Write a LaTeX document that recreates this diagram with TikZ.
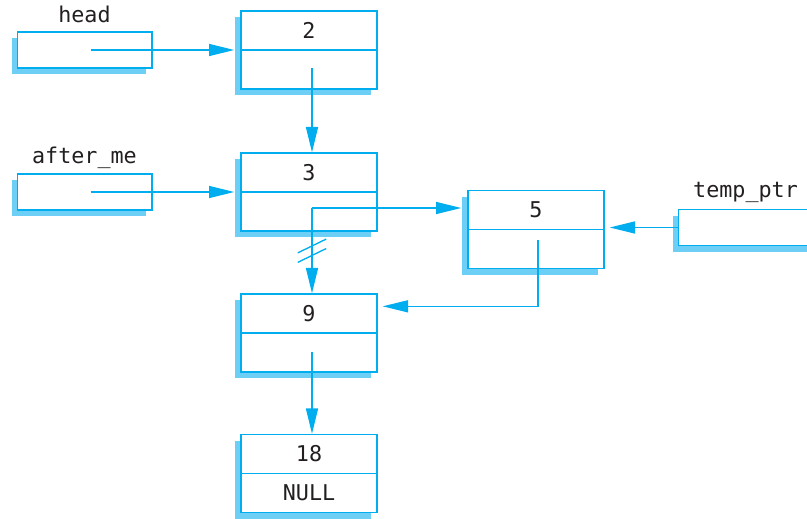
\documentclass[tikz,border=0pt]{standalone}
\usepackage{fontspec}
\setmonofont{DejaVu Sans Mono}
\usetikzlibrary{arrows.meta,shadows,calc}
\definecolor{linkblue}{RGB}{0,174,239}
\definecolor{shadowblue}{RGB}{109,207,246}
\definecolor{inkgray}{RGB}{35,31,32}
\tikzset{
  boxshadow/.style={drop shadow={shadow xshift=-4.2pt, shadow yshift=-4.8pt, fill=shadowblue, opacity=1}},
  cell/.style={draw=linkblue, fill=white, line width=1pt, minimum width=102pt, minimum height=58.5pt, boxshadow},
  ptr/.style={draw=linkblue, fill=white, line width=1pt, minimum width=101pt, minimum height=27pt, boxshadow},
  link/.style={draw=linkblue, line width=1pt},
  val/.style={text=inkgray, font=\ttfamily\fontsize{16.3}{19}\selectfont},
  ptrlabel/.style={val, anchor=base},
  >={Triangle[length=19pt, width=9pt]}
}
\begin{document}
\begin{tikzpicture}[x=0.75pt, y=0.75pt]
\useasboundingbox (0,0) rectangle (807,518);
\clip (0,0) rectangle (807,518);

% list cells
\foreach \nm/\v/\x/\y in {n2/2/309/468, n3/3/309/326, n5/5/536/288.5, n9/9/309/185, n18/18/309/44.5} {
  \node[cell] (\nm) at (\x,\y) {};
  \draw[link] (\nm.west) -- (\nm.east);
  \node[val] at ([yshift=14.6pt]\nm.center) {\v};
}
\node[val] at ([yshift=-14.6pt]n18.center) {NULL};

% pointer variables
\node[ptr] (headbox) at (84.5,468) {};
\node[ptr] (afterbox) at (84.5,326) {};
\node[ptr] (tempbox) at (745.5,290.5) {};
\node[ptrlabel] at ([yshift=6.8pt]headbox.north) {head};
\node[ptrlabel] at ([yshift=7.5pt]afterbox.north) {after\_me};
\node[ptrlabel] at ([yshift=8.2pt]tempbox.north) {temp\_ptr};

\coordinate (p2) at ([shift={(3,-18)}]n2.center);
\coordinate (p3) at ([shift={(3,-16)}]n3.center);
\coordinate (p5) at ([shift={(2,-10.5)}]n5.center);
\coordinate (p9) at ([shift={(3,-19)}]n9.center);

\draw[link,->] ([xshift=4.5pt]headbox.center) -- ([xshift=-4.5pt]n2.west);
\draw[link,->] ([xshift=4.5pt]afterbox.center) -- ([xshift=-4.5pt]n3.west);
\draw[link,->] (p2) -- (p2 |- n3.north);
\draw[link,->] (p3) -- ([xshift=-4.5pt]n5.west |- p3);
\draw[link,->] (p3) -- (p3 |- n9.north);
\draw[link,->] (p5) |- ([shift={(5,-13)}]n9.north east);
\draw[link,->] (tempbox.west) -- ([xshift=3.75pt]n5.east |- tempbox.west);
\draw[link,->] (p9) -- (p9 |- n18.north);

% broken link
\coordinate (cut) at ($(p3)!0.5!(p3 |- n9.north)$);
\foreach \d in {4.7,-4.8}
  \draw[link] ([shift={(-14.2,\d-6.9)}]cut) -- ([shift={(14.2,\d+6.9)}]cut);
\end{tikzpicture}
\end{document}
